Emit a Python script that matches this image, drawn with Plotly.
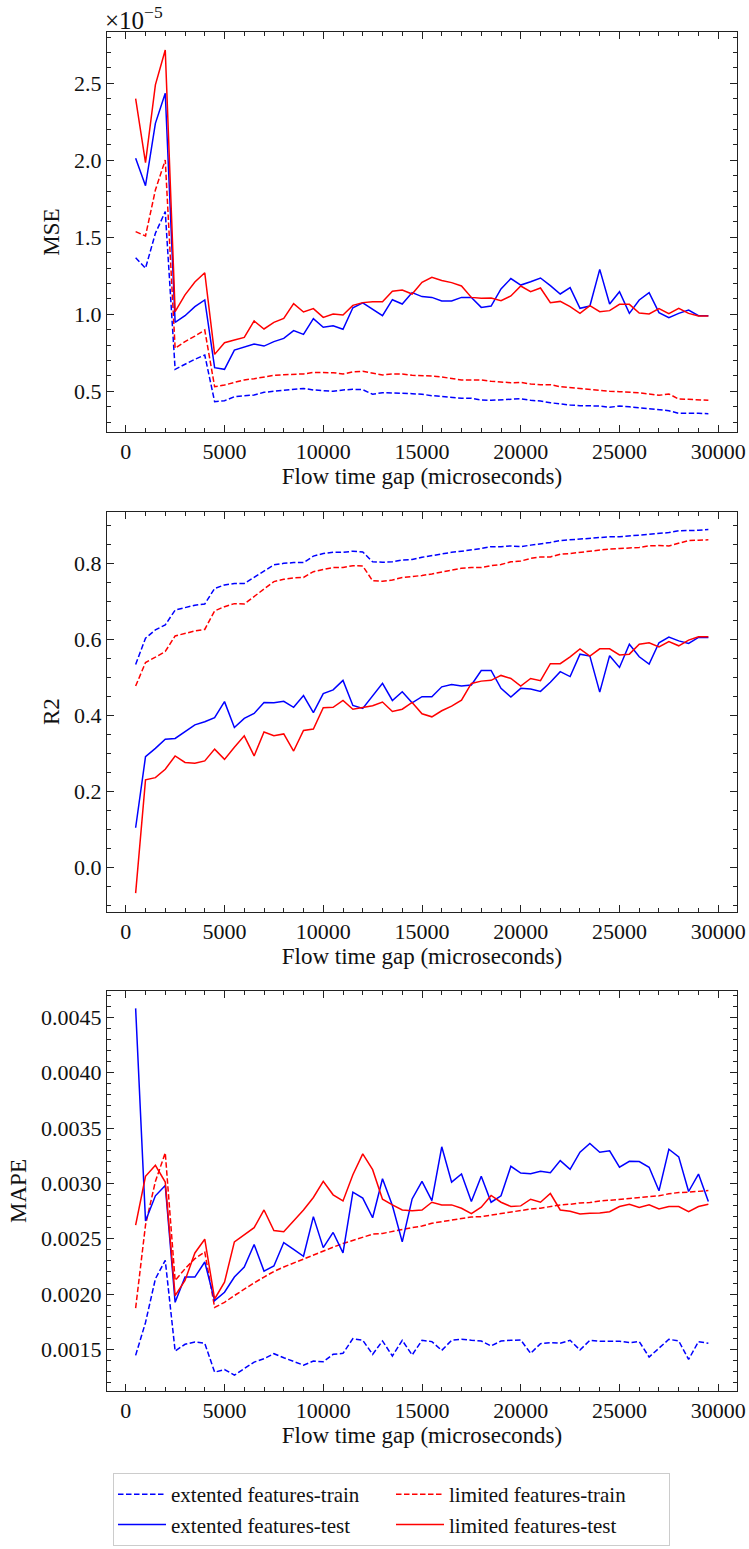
import plotly.graph_objects as go

x_gap = list(range(500, 30000, 500))

# MSE (units of 1e-5)
mse_ext_train = [1.368, 1.299, 1.526, 1.667, 0.643, 0.677, 0.708, 0.736, 0.433, 0.439,
                 0.465, 0.472, 0.476, 0.494, 0.500, 0.504, 0.511, 0.519, 0.509, 0.504,
                 0.500, 0.509, 0.513, 0.511, 0.481, 0.491, 0.491, 0.487, 0.485, 0.481,
                 0.472, 0.465, 0.461, 0.455, 0.455, 0.444, 0.442, 0.444, 0.446, 0.452,
                 0.442, 0.437, 0.426, 0.418, 0.411, 0.407, 0.407, 0.405, 0.396, 0.405,
                 0.400, 0.394, 0.387, 0.383, 0.374, 0.357, 0.359, 0.357, 0.355]
mse_ext_test = [2.013, 1.835, 2.240, 2.435, 0.948, 0.991, 1.050, 1.093, 0.654, 0.643,
                0.768, 0.790, 0.807, 0.794, 0.823, 0.844, 0.894, 0.870, 0.972, 0.916,
                0.926, 0.903, 1.043, 1.074, 1.032, 0.991, 1.095, 1.067, 1.141, 1.115,
                1.110, 1.087, 1.087, 1.110, 1.110, 1.045, 1.054, 1.165, 1.232, 1.190,
                1.212, 1.236, 1.186, 1.132, 1.173, 1.039, 1.054, 1.292, 1.067, 1.147,
                1.006, 1.093, 1.141, 1.011, 0.978, 1.006, 1.028, 0.991, 0.991]
mse_lim_train = [1.537, 1.509, 1.807, 2.002, 0.779, 0.823, 0.859, 0.898, 0.530, 0.541,
                 0.558, 0.574, 0.582, 0.591, 0.604, 0.608, 0.610, 0.613, 0.623, 0.621,
                 0.621, 0.613, 0.626, 0.630, 0.619, 0.606, 0.613, 0.613, 0.604, 0.604,
                 0.600, 0.593, 0.584, 0.574, 0.574, 0.574, 0.565, 0.561, 0.556, 0.558,
                 0.548, 0.543, 0.543, 0.530, 0.524, 0.519, 0.511, 0.504, 0.500, 0.498,
                 0.496, 0.491, 0.483, 0.474, 0.483, 0.450, 0.448, 0.444, 0.442]
mse_lim_test = [2.400, 1.985, 2.490, 2.716, 1.017, 1.126, 1.210, 1.270, 0.740, 0.816,
                0.833, 0.850, 0.957, 0.905, 0.948, 0.974, 1.069, 1.015, 1.037, 0.980,
                1.002, 0.996, 1.058, 1.076, 1.082, 1.082, 1.150, 1.158, 1.132, 1.208,
                1.240, 1.220, 1.206, 1.184, 1.110, 1.104, 1.106, 1.089, 1.119, 1.184,
                1.147, 1.171, 1.076, 1.084, 1.050, 1.006, 1.056, 1.017, 1.024, 1.065,
                1.065, 1.009, 1.002, 1.037, 1.004, 1.039, 1.006, 0.989, 0.989]

# R2
r2_ext_train = [0.534, 0.603, 0.625, 0.638, 0.677, 0.684, 0.690, 0.693, 0.734, 0.743,
                0.747, 0.747, 0.763, 0.780, 0.796, 0.800, 0.802, 0.802, 0.819, 0.826,
                0.829, 0.829, 0.832, 0.830, 0.804, 0.803, 0.804, 0.809, 0.810, 0.816,
                0.820, 0.826, 0.829, 0.832, 0.835, 0.839, 0.844, 0.844, 0.846, 0.844,
                0.848, 0.851, 0.855, 0.860, 0.862, 0.865, 0.866, 0.868, 0.870, 0.870,
                0.872, 0.875, 0.877, 0.879, 0.881, 0.886, 0.886, 0.887, 0.889]
r2_ext_test = [0.104, 0.291, 0.313, 0.337, 0.339, 0.357, 0.375, 0.383, 0.394, 0.436,
               0.368, 0.392, 0.405, 0.434, 0.433, 0.437, 0.421, 0.452, 0.407, 0.457,
               0.467, 0.492, 0.426, 0.418, 0.451, 0.484, 0.439, 0.462, 0.433, 0.449,
               0.449, 0.475, 0.481, 0.477, 0.480, 0.518, 0.518, 0.471, 0.448, 0.471,
               0.469, 0.463, 0.487, 0.515, 0.502, 0.561, 0.556, 0.461, 0.557, 0.526,
               0.587, 0.554, 0.535, 0.591, 0.606, 0.596, 0.589, 0.605, 0.605]
r2_lim_train = [0.477, 0.539, 0.553, 0.568, 0.609, 0.616, 0.622, 0.626, 0.675, 0.686,
                0.694, 0.693, 0.712, 0.732, 0.752, 0.758, 0.762, 0.763, 0.778, 0.784,
                0.789, 0.789, 0.794, 0.793, 0.754, 0.753, 0.756, 0.763, 0.765, 0.768,
                0.772, 0.777, 0.781, 0.787, 0.789, 0.789, 0.794, 0.797, 0.804, 0.806,
                0.813, 0.817, 0.817, 0.824, 0.826, 0.829, 0.832, 0.835, 0.838, 0.839,
                0.840, 0.842, 0.846, 0.847, 0.846, 0.853, 0.860, 0.861, 0.862]
r2_lim_test = [-0.068, 0.230, 0.236, 0.258, 0.293, 0.276, 0.274, 0.280, 0.311, 0.284,
               0.316, 0.346, 0.293, 0.356, 0.346, 0.351, 0.306, 0.360, 0.364, 0.420,
               0.421, 0.439, 0.416, 0.421, 0.425, 0.435, 0.410, 0.416, 0.434, 0.404,
               0.396, 0.412, 0.424, 0.440, 0.484, 0.490, 0.492, 0.505, 0.497, 0.477,
               0.497, 0.491, 0.536, 0.536, 0.554, 0.575, 0.556, 0.575, 0.575, 0.559,
               0.561, 0.587, 0.591, 0.580, 0.594, 0.583, 0.598, 0.607, 0.607]

# MAPE (units of 1e-3)
mape_ext_train = [1.447, 1.744, 2.138, 2.305, 1.486, 1.547, 1.568, 1.556, 1.295, 1.319,
                  1.268, 1.325, 1.386, 1.416, 1.462, 1.425, 1.395, 1.359, 1.395, 1.389,
                  1.456, 1.465, 1.598, 1.583, 1.456, 1.577, 1.441, 1.583, 1.450, 1.583,
                  1.571, 1.492, 1.583, 1.592, 1.583, 1.577, 1.532, 1.577, 1.583, 1.586,
                  1.465, 1.553, 1.562, 1.556, 1.583, 1.495, 1.583, 1.574, 1.574, 1.574,
                  1.562, 1.571, 1.432, 1.510, 1.592, 1.577, 1.410, 1.571, 1.556]
mape_ext_test = [4.581, 2.660, 2.888, 2.982, 1.926, 2.154, 2.154, 2.290, 1.941, 2.017,
                 2.154, 2.245, 2.448, 2.208, 2.254, 2.466, 2.405, 2.342, 2.700, 2.420,
                 2.557, 2.372, 2.921, 2.867, 2.690, 3.042, 2.800, 2.472, 2.860, 3.018,
                 2.845, 3.331, 3.012, 3.085, 2.836, 3.064, 2.830, 2.888, 3.155, 3.094,
                 3.088, 3.109, 3.097, 3.206, 3.127, 3.282, 3.361, 3.282, 3.294, 3.146,
                 3.200, 3.197, 3.146, 2.933, 3.309, 3.240, 2.927, 3.085, 2.836]
mape_lim_train = [1.874, 2.624, 3.018, 3.276, 2.123, 2.229, 2.320, 2.381, 1.880, 1.926,
                  1.987, 2.047, 2.102, 2.154, 2.205, 2.245, 2.281, 2.320, 2.357, 2.393,
                  2.424, 2.457, 2.487, 2.518, 2.542, 2.548, 2.569, 2.584, 2.600, 2.615,
                  2.640, 2.654, 2.669, 2.684, 2.697, 2.700, 2.715, 2.730, 2.742, 2.760,
                  2.769, 2.776, 2.794, 2.806, 2.812, 2.824, 2.827, 2.842, 2.848, 2.857,
                  2.867, 2.873, 2.882, 2.888, 2.906, 2.918, 2.921, 2.927, 2.936]
mape_lim_test = [2.624, 3.064, 3.164, 3.012, 1.987, 2.123, 2.372, 2.496, 1.956, 2.108,
                 2.472, 2.539, 2.600, 2.760, 2.575, 2.563, 2.660, 2.760, 2.873, 3.018,
                 2.897, 2.842, 3.079, 3.267, 3.124, 2.857, 2.806, 2.760, 2.754, 2.760,
                 2.830, 2.806, 2.806, 2.776, 2.727, 2.785, 2.891, 2.830, 2.791, 2.797,
                 2.857, 2.830, 2.909, 2.760, 2.748, 2.724, 2.730, 2.733, 2.745, 2.791,
                 2.812, 2.782, 2.806, 2.769, 2.791, 2.791, 2.745, 2.791, 2.812]

mse_scale = 1e-5
mape_scale = 1e-3

series_names = ["extented features-train", "limited features-train",
                "extented features-test", "limited features-test"]

FONT = "'Liberation Serif', 'DejaVu Serif', serif"
W, H = 749, 1549
BLUE, RED = "#0000ff", "#ff0000"
DASH = "5.5px,2.5px"
TICK_SIZE = 22
TITLE_SIZE = 23

fig = go.Figure()

panels = [
    dict(ext_tr=mse_ext_train, ext_te=mse_ext_test, lim_tr=mse_lim_train, lim_te=mse_lim_test, scale=mse_scale),
    dict(ext_tr=r2_ext_train, ext_te=r2_ext_test, lim_tr=r2_lim_train, lim_te=r2_lim_test, scale=1.0),
    dict(ext_tr=mape_ext_train, ext_te=mape_ext_test, lim_tr=mape_lim_train, lim_te=mape_lim_test, scale=mape_scale),
]

for i, p in enumerate(panels):
    xa = "x" if i == 0 else f"x{i+1}"
    ya = "y" if i == 0 else f"y{i+1}"
    sc = p["scale"]
    show = (i == 0)
    specs = [
        (p["ext_tr"], series_names[0], BLUE, DASH),
        (p["lim_tr"], series_names[1], RED, DASH),
        (p["ext_te"], series_names[2], BLUE, "solid"),
        (p["lim_te"], series_names[3], RED, "solid"),
    ]
    for vals, name, col, dash in specs:
        fig.add_trace(go.Scatter(
            x=x_gap, y=[v * sc for v in vals], mode="lines", name=name,
            line=dict(color=col, width=1.5, dash=dash),
            xaxis=xa, yaxis=ya, showlegend=show, legendgroup=name))

def px2dom(top, bottom):
    return [1 - bottom / H, 1 - top / H]

doms = [px2dom(32.3, 431.7), px2dom(511.7, 911.7), px2dom(991, 1391)]

axis_common = dict(
    showline=True, linecolor="#222222", linewidth=1, mirror="allticks",
    ticks="inside", ticklen=7, tickwidth=1, tickcolor="#222222",
    showgrid=False, zeroline=False,
    tickfont=dict(family=FONT, size=TICK_SIZE, color="#111111"),
)

xr = [-950, 30950]
for i in range(3):
    sfx = "" if i == 0 else str(i + 1)
    fig.layout[f"xaxis{sfx}"] = dict(
        axis_common, domain=[0, 1], range=xr, anchor=f"y{sfx}",
        tickvals=[0, 5000, 10000, 15000, 20000, 25000, 30000],
        ticktext=["0", "5000", "10000", "15000", "20000", "25000", "30000"],
        minor=dict(ticks="inside", ticklen=4, dtick=1000, tick0=0, tickcolor="#222222", showgrid=False),
        title=dict(text="Flow time gap (microseconds)", font=dict(family=FONT, size=TITLE_SIZE, color="#111111"), standoff=4),
    )

ycfg = [
    dict(range=[0.238 * mse_scale, 2.831 * mse_scale],
         tickvals=[v * mse_scale for v in [0.5, 1.0, 1.5, 2.0, 2.5]],
         ticktext=["0.5", "1.0", "1.5", "2.0", "2.5"],
         minor_dtick=0.1 * mse_scale, title="MSE"),
    dict(range=[-0.117, 0.936],
         tickvals=[0.0, 0.2, 0.4, 0.6, 0.8],
         ticktext=["0.0", "0.2", "0.4", "0.6", "0.8"],
         minor_dtick=0.05, title="R2"),
    dict(range=[1.125 * mape_scale, 4.738 * mape_scale],
         tickvals=[v * mape_scale for v in [1.5, 2.0, 2.5, 3.0, 3.5, 4.0, 4.5]],
         ticktext=["0.0015", "0.0020", "0.0025", "0.0030", "0.0035", "0.0040", "0.0045"],
         minor_dtick=0.1 * mape_scale, title="MAPE"),
]
for i, c in enumerate(ycfg):
    sfx = "" if i == 0 else str(i + 1)
    fig.layout[f"yaxis{sfx}"] = dict(
        axis_common, domain=doms[i], range=c["range"], anchor=f"x{sfx}",
        tickvals=c["tickvals"], ticktext=c["ticktext"],
        minor=dict(ticks="inside", ticklen=4, dtick=c["minor_dtick"], tick0=0, tickcolor="#222222", showgrid=False),
        title=dict(text=c["title"], font=dict(family=FONT, size=TITLE_SIZE, color="#111111"), standoff=8),
    )

fig.add_annotation(
    x=0, y=1 - 32.3 / H, xref="paper", yref="paper", xanchor="left", yanchor="bottom",
    text="×10<sup>−5</sup>", showarrow=False, xshift=-4, yshift=-4,
    font=dict(family=FONT, size=25, color="#111111"))

fig.update_layout(
    width=W, height=H,
    margin=dict(l=107, r=12, t=0, b=0, autoexpand=False),
    paper_bgcolor="white", plot_bgcolor="white",
    font=dict(family=FONT, size=TICK_SIZE, color="#111111"),
    legend=dict(
        x=(113 - 107) / 630, y=1 - 1546 / H, xanchor="left", yanchor="bottom",
        orientation="h", entrywidth=215, entrywidthmode="pixels",
        itemwidth=48, tracegroupgap=0,
        bordercolor="#cccccc", borderwidth=1, bgcolor="white",
        font=dict(family=FONT, size=21, color="#111111"),
    ),
)

fig.write_html("out.html")
